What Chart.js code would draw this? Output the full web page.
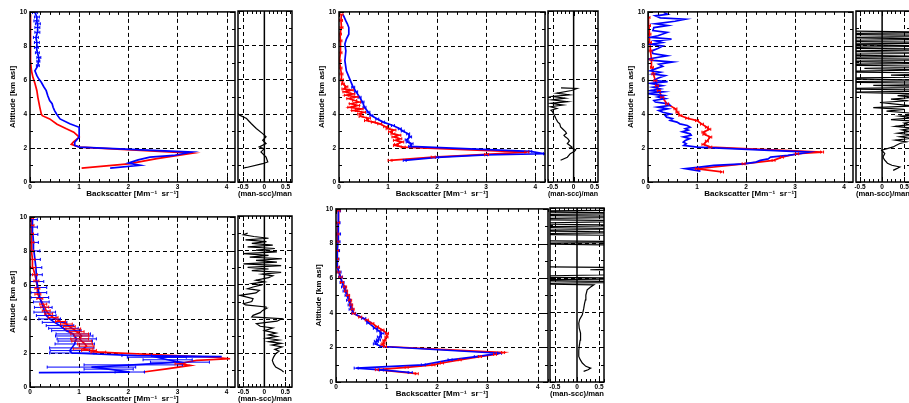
<!DOCTYPE html>
<html>

<head>
    <title>Backscatter profiles</title>
    <script src="https://cdn.jsdelivr.net/npm/chart.js@4.4.0/dist/chart.umd.min.js"></script>
    <style>
        body {
            margin: 0;
            background: #fff;
            width: 909px;
            height: 403px;
            overflow: hidden;
            position: relative;
        }

        canvas {
            position: absolute;
        }
    </style>
</head>

<body>
    <script>
        // tick labels
        var altTicks = [0, 2, 4, 6, 8, 10];
        var bscTicks = [0, 1, 2, 3, 4];
        var diffTicks = [-0.5, 0, 0.5];

        // each row: [altitude km, backscatter Mm-1 sr-1, error]
        var p1Blue = [
            [0.82, 1.63, 0], [0.98, 2.24, 0], [1.11, 2.00, 0], [1.30, 2.20, 0], [1.46, 2.44, 0],
            [1.56, 2.92, 0], [1.76, 3.29, 0], [2.05, 1.01, 0], [2.15, 0.91, 0], [2.34, 0.91, 0],
            [2.64, 1.00, 0], [3.22, 1.00, 0], [3.42, 0.81, 0], [3.71, 0.61, 0], [4.00, 0.54, 0],
            [4.20, 0.50, 0], [4.39, 0.47, 0], [4.60, 0.45, 0], [4.79, 0.40, 0], [5.08, 0.36, 0],
            [5.37, 0.33, 0], [5.60, 0.28, 0], [5.86, 0.23, 0], [6.05, 0.18, 0], [6.25, 0.14, 0],
            [6.54, 0.10, 0], [6.84, 0.16, 0.03], [7.10, 0.17, 0.03], [7.32, 0.18, 0.04], [7.60, 0.15, 0.04],
            [7.91, 0.13, 0.04], [8.20, 0.14, 0.05], [8.50, 0.12, 0.05], [8.80, 0.15, 0.05], [9.08, 0.15, 0.05],
            [9.30, 0.16, 0.05], [9.47, 0.13, 0.05], [9.70, 0.14, 0.05], [9.96, 0.10, 0.05]
        ];
        var p1Red = [
            [0.82, 1.05, 0], [1.07, 2.00, 0], [1.37, 2.58, 0], [1.70, 3.31, 0], [2.05, 1.01, 0],
            [2.21, 0.84, 0], [2.34, 0.88, 0], [2.64, 1.00, 0], [2.93, 0.89, 0], [3.13, 0.74, 0],
            [3.40, 0.55, 0], [3.71, 0.40, 0], [3.90, 0.25, 0], [4.00, 0.23, 0], [4.39, 0.20, 0],
            [4.98, 0.16, 0], [5.37, 0.14, 0], [5.80, 0.10, 0], [6.15, 0.06, 0], [6.54, 0.03, 0],
            [7.13, 0.01, 0], [8.30, 0.01, 0], [9.86, 0.01, 0]
        ];
        // each row: [altitude km, (man-scc)/man]
        var p1Diff = [
            [0.82, -0.49], [0.85, -0.42], [1.07, -0.04], [1.17, 0.08], [1.46, 0.04], [1.76, -0.08],
            [1.95, 0.00], [2.05, -0.12], [2.25, 0.04], [2.44, -0.04], [2.64, 0.04], [2.83, -0.04],
            [3.13, -0.19], [3.42, -0.31], [3.71, -0.42], [3.91, -0.58], [4.00, -0.62]
        ];

        var p2Blue = [
            [1.27, 1.34, 0.03], [1.45, 2.00, 0.03], [1.60, 3.00, 0.03], [1.66, 4.20, 0.03], [1.80, 3.90, 0.03],
            [2.09, 1.45, 0.03], [2.25, 1.48, 0.03], [2.35, 1.40, 0.03], [2.48, 1.38, 0.03], [2.65, 1.45, 0.03],
            [2.83, 1.41, 0.03], [3.00, 1.30, 0.03], [3.13, 1.24, 0.03], [3.32, 1.10, 0.03], [3.52, 0.90, 0.03],
            [3.70, 0.78, 0.03], [3.91, 0.66, 0.03], [4.10, 0.60, 0.03], [4.39, 0.52, 0.03], [4.70, 0.48, 0.03],
            [4.98, 0.42, 0.03], [5.30, 0.35, 0.03], [5.57, 0.29, 0.03], [6.05, 0.22, 0], [6.54, 0.15, 0],
            [7.13, 0.12, 0], [7.71, 0.14, 0], [8.11, 0.12, 0], [8.40, 0.15, 0], [8.69, 0.20, 0],
            [9.08, 0.20, 0], [9.30, 0.17, 0], [9.47, 0.14, 0], [9.86, 0.08, 0]
        ];
        var p2Red = [
            [1.27, 1.04, 0.04], [1.46, 1.92, 0.04], [1.62, 3.01, 0.04], [1.76, 3.83, 0.04], [2.05, 1.31, 0.04],
            [2.15, 1.15, 0.04], [2.21, 1.17, 0.04], [2.35, 1.28, 0.04], [2.45, 1.15, 0.04], [2.54, 1.24, 0.04],
            [2.65, 1.12, 0.04], [2.75, 1.22, 0.04], [2.83, 1.10, 0.04], [2.95, 1.05, 0.04], [3.05, 1.12, 0.04],
            [3.13, 1.00, 0.04], [3.25, 0.95, 0.04], [3.42, 0.83, 0.04], [3.52, 0.70, 0.04], [3.61, 0.56, 0.04],
            [3.75, 0.60, 0.04], [3.85, 0.45, 0.04], [4.00, 0.42, 0.04], [4.10, 0.50, 0.04], [4.20, 0.30, 0.04],
            [4.30, 0.45, 0.04], [4.39, 0.22, 0.04], [4.50, 0.38, 0.04], [4.60, 0.25, 0.04], [4.70, 0.40, 0.04],
            [4.79, 0.32, 0.04], [4.90, 0.20, 0.04], [5.00, 0.35, 0.04], [5.10, 0.15, 0.04], [5.18, 0.28, 0.04],
            [5.30, 0.12, 0.04], [5.40, 0.25, 0.04], [5.47, 0.10, 0.04], [5.60, 0.15, 0.03], [5.76, 0.08, 0.03],
            [6.00, 0.06, 0.03], [6.35, 0.05, 0.03], [6.70, 0.03, 0.03], [7.13, 0.01, 0.03], [7.60, 0.03, 0.03],
            [8.30, 0.03, 0.03], [8.70, 0.02, 0.03], [9.08, 0.05, 0.03], [9.50, 0.04, 0.03], [9.86, 0.05, 0.03]
        ];
        var p2Diff = [
            [1.27, -0.31], [1.45, -0.15], [1.66, -0.08], [1.80, 0.02], [1.89, 0.05], [2.00, -0.06],
            [2.05, -0.04], [2.25, -0.15], [2.40, -0.10], [2.54, -0.14], [2.65, -0.20], [2.73, -0.23],
            [2.85, -0.17], [2.93, -0.19], [3.10, -0.26], [3.22, -0.31], [3.40, -0.33], [3.52, -0.38],
            [3.70, -0.42], [3.91, -0.46], [4.10, -0.50], [4.20, -0.54], [4.30, -0.40], [4.40, -0.55],
            [4.50, -0.25], [4.60, -0.55], [4.70, -0.15], [4.80, -0.52], [4.90, -0.20], [5.00, -0.50],
            [5.10, -0.10], [5.20, -0.40], [5.35, -0.05], [5.47, 0.08], [5.50, -0.30]
        ];

        var p3Blue = [
            [0.64, 1.07, 0], [0.78, 0.76, 0], [0.88, 1.05, 0], [0.98, 1.34, 0], [1.07, 1.95, 0],
            [1.17, 2.20, 0], [1.27, 2.29, 0], [1.36, 2.45, 0], [1.46, 2.50, 0], [1.56, 2.85, 0],
            [1.66, 3.10, 0], [1.76, 3.28, 0], [2.05, 1.00, 0], [2.15, 0.73, 0], [2.25, 0.78, 0],
            [2.35, 0.72, 0], [2.44, 0.76, 0], [2.55, 0.85, 0], [2.65, 0.72, 0], [2.75, 0.88, 0],
            [2.83, 0.86, 0], [2.95, 0.70, 0], [3.05, 0.82, 0], [3.13, 0.76, 0], [3.22, 0.86, 0],
            [3.32, 0.80, 0], [3.42, 0.65, 0], [3.52, 0.59, 0], [3.62, 0.45, 0], [3.72, 0.50, 0],
            [3.81, 0.38, 0], [3.91, 0.35, 0], [4.00, 0.45, 0], [4.10, 0.30, 0], [4.20, 0.22, 0],
            [4.30, 0.40, 0], [4.40, 0.20, 0], [4.50, 0.45, 0], [4.59, 0.42, 0], [4.70, 0.15, 0],
            [4.79, 0.12, 0], [4.90, 0.35, 0], [5.00, 0.20, 0], [5.08, 0.32, 0], [5.20, 0.00, 0],
            [5.30, 0.30, 0], [5.37, 0.05, 0], [5.47, 0.25, 0], [5.57, 0.10, 0], [5.66, 0.29, 0],
            [5.80, 0.05, 0], [5.90, 0.40, 0], [5.96, 0.12, 0], [6.10, 0.20, 0], [6.25, 0.35, 0],
            [6.35, 0.10, 0], [6.45, 0.25, 0], [6.54, 0.05, 0], [6.65, 0.15, 0], [6.80, 0.30, 0],
            [6.93, 0.22, 0], [7.05, 0.50, 0], [7.15, 0.10, 0], [7.23, 0.01, 0], [7.42, 0.39, 0],
            [7.55, 0.10, 0], [7.71, 0.08, 0], [7.85, 0.20, 0], [8.00, 0.30, 0], [8.10, 0.05, 0],
            [8.20, 0.29, 0], [8.30, 0.15, 0], [8.40, 0.48, 0], [8.50, 0.05, 0], [8.60, 0.20, 0],
            [8.79, 0.39, 0], [8.90, 0.10, 0], [9.08, 0.12, 0], [9.20, 0.40, 0], [9.30, 0.15, 0],
            [9.45, 0.55, 0], [9.57, 0.76, 0], [9.65, 0.25, 0], [9.77, 0.15, 0], [9.86, 0.40, 0],
            [9.96, 0.32, 0]
        ];
        var p3Red = [
            [0.59, 1.51, 0.03], [0.78, 1.00, 0.03], [1.07, 1.95, 0.03], [1.27, 2.56, 0.03], [1.46, 2.73, 0.03],
            [1.66, 3.04, 0.03], [1.76, 3.55, 0.03], [2.05, 1.27, 0.03], [2.21, 1.13, 0.03], [2.40, 1.20, 0.03],
            [2.64, 1.27, 0.03], [2.80, 1.15, 0.03], [2.93, 1.13, 0.03], [3.10, 1.25, 0.03], [3.22, 1.20, 0.03],
            [3.40, 1.10, 0.03], [3.61, 1.00, 0.03], [3.75, 0.80, 0.03], [3.91, 0.66, 0.03], [4.10, 0.60, 0.03],
            [4.30, 0.56, 0.03], [4.59, 0.39, 0.03], [4.98, 0.29, 0.03], [5.37, 0.22, 0.03], [5.66, 0.18, 0.03],
            [5.96, 0.15, 0.03], [6.35, 0.11, 0.03], [6.74, 0.08, 0.03], [7.20, 0.07, 0.03], [7.71, 0.05, 0.03],
            [8.20, 0.04, 0.03], [8.69, 0.03, 0.03], [9.20, 0.02, 0.03], [9.67, 0.01, 0.03]
        ];
        var p3Diff = [
            [0.68, 0.25], [0.78, 0.33], [0.88, 0.40], [0.98, 0.22], [1.10, 0.12], [1.30, 0.05],
            [1.46, 0.02], [1.66, 0.06], [1.86, -0.01], [2.05, 0.25], [2.15, 0.32], [2.25, 0.40],
            [2.35, 0.55], [2.45, 0.30], [2.55, 0.65], [2.65, 0.40], [2.75, 0.70], [2.85, 0.35],
            [2.95, 0.62], [3.05, 0.45], [3.15, 0.70], [3.25, 0.30], [3.35, 0.60], [3.45, 0.50],
            [3.55, 0.80], [3.65, 0.20], [3.75, 0.70], [3.85, 0.40], [3.95, 0.90], [4.05, 0.55],
            [4.15, 0.10], [4.25, 0.50], [4.35, -0.20], [4.45, 0.70], [4.55, 0.30], [4.65, -0.05],
            [4.75, 0.60], [4.85, 0.20], [4.95, 0.75], [5.05, 0.35], [5.15, 0.90], [5.25, -0.70],
            [5.35, 2.0], [5.45, -1.5], [5.55, 1.5], [5.65, -0.2], [5.75, 2.0], [5.85, -1.5],
            [5.95, 1.8], [6.05, -2.0], [6.15, 1.5], [6.25, 0.2], [6.35, 2.0], [6.45, -1.5],
            [6.55, 1.0], [6.65, -0.4], [6.75, 2.0], [6.85, -2.0], [6.95, 1.5], [7.05, -1.0],
            [7.15, 2.0], [7.25, -2.0], [7.35, 1.0], [7.45, -2.0], [7.55, 2.0], [7.65, -1.5],
            [7.75, 2.0], [7.85, -2.0], [7.95, 1.5], [8.05, -1.5], [8.15, 2.0], [8.25, -2.0],
            [8.35, 1.5], [8.45, -1.0], [8.55, 2.0], [8.65, -2.0], [8.75, 1.5], [8.85, -1.5]
        ];

        var p4Blue = [
            [0.84, 0.18, 0], [0.88, 2.03, 0.30], [1.05, 1.60, 0.50], [1.17, 1.25, 0.90], [1.30, 2.10, 1.00],
            [1.46, 3.05, 0.60], [1.60, 2.80, 0.50], [1.75, 2.58, 0.60], [1.79, 3.90, 0], [1.85, 2.17, 0.30],
            [2.00, 0.85, 0.45], [2.14, 0.81, 0.40], [2.30, 0.85, 0.45], [2.53, 0.91, 0.40], [2.70, 0.92, 0.35],
            [2.83, 0.95, 0.40], [3.00, 0.90, 0.38], [3.12, 0.88, 0.35], [3.31, 0.74, 0.30], [3.45, 0.68, 0.30],
            [3.61, 0.61, 0.28], [3.80, 0.50, 0.25], [4.00, 0.40, 0.22], [4.20, 0.33, 0.20], [4.40, 0.30, 0.22],
            [4.68, 0.27, 0.18], [5.00, 0.23, 0.16], [5.26, 0.20, 0.18], [5.55, 0.18, 0.16], [5.85, 0.16, 0.18],
            [6.20, 0.14, 0.14], [6.60, 0.13, 0.12], [7.02, 0.12, 0.12], [7.50, 0.10, 0.11], [8.00, 0.08, 0.12],
            [8.50, 0.07, 0.10], [8.97, 0.06, 0.10], [9.40, 0.05, 0.10], [9.84, 0.05, 0.10]
        ];
        var p4Red = [
            [0.88, 2.31, 0], [1.07, 2.78, 0], [1.27, 3.26, 0], [1.36, 3.05, 0.10], [1.46, 3.20, 0],
            [1.56, 3.39, 0], [1.66, 4.07, 0], [1.75, 3.73, 0], [2.05, 1.39, 0.15], [2.15, 1.20, 0.15],
            [2.24, 1.08, 0.20], [2.40, 1.15, 0.15], [2.53, 1.12, 0.15], [2.70, 1.05, 0.20], [2.83, 1.01, 0.18],
            [3.00, 1.05, 0.15], [3.12, 1.01, 0.18], [3.25, 0.95, 0.15], [3.41, 0.88, 0.15], [3.55, 0.80, 0.12],
            [3.70, 0.74, 0.12], [3.85, 0.62, 0.10], [4.09, 0.47, 0.10], [4.30, 0.38, 0.08], [4.48, 0.33, 0.08],
            [4.70, 0.30, 0.08], [4.87, 0.27, 0.07], [5.20, 0.20, 0.06], [5.46, 0.16, 0.06], [5.80, 0.15, 0.05],
            [6.24, 0.13, 0.05], [6.60, 0.10, 0.05], [7.02, 0.06, 0.05], [7.50, 0.05, 0.05], [8.00, 0.03, 0.04],
            [8.50, 0.04, 0.04], [9.00, 0.03, 0.04], [9.50, 0.04, 0.04], [9.94, 0.03, 0.04]
        ];
        var p4Diff = [
            [0.88, 0.46], [1.00, 0.40], [1.17, 0.27], [1.35, 0.22], [1.56, 0.19], [1.75, 0.22],
            [1.95, 0.27], [2.10, 0.35], [2.20, 0.25], [2.34, 0.42], [2.45, 0.18], [2.55, 0.40],
            [2.65, 0.10], [2.75, 0.35], [2.85, 0.05], [2.95, 0.30], [3.05, 0.10], [3.15, 0.28],
            [3.30, 0.00], [3.45, 0.20], [3.55, -0.10], [3.70, -0.19], [3.85, 0.30], [4.00, 0.42],
            [4.10, -0.30], [4.19, -0.27], [4.35, -0.10], [4.48, -0.04], [4.60, 0.05], [4.68, 0.04],
            [4.80, -0.45], [4.87, -0.50], [5.00, -0.30], [5.17, -0.27], [5.36, -0.58], [5.50, -0.20],
            [5.65, -0.12], [5.75, -0.40], [5.85, -0.27], [5.95, -0.10], [6.05, -0.30], [6.15, 0.00],
            [6.25, -0.20], [6.40, 0.10], [6.50, 0.20], [6.60, -0.05], [6.70, 0.40], [6.80, -0.30],
            [6.90, 0.10], [7.00, -0.40], [7.10, 0.40], [7.20, -0.50], [7.30, 0.30], [7.40, -0.20],
            [7.50, 0.42], [7.60, -0.35], [7.70, 0.10], [7.80, -0.50], [7.90, 0.30], [8.00, -0.20],
            [8.10, 0.25], [8.20, -0.40], [8.30, 0.20], [8.40, -0.30], [8.50, 0.05], [8.60, -0.45],
            [8.70, 0.10], [8.80, -0.25], [8.90, -0.50], [9.00, -0.40]
        ];

        var p5Blue = [
            [0.55, 1.47, 0.04], [0.70, 0.90, 0.04], [0.80, 0.40, 0.04], [0.99, 1.73, 0.04], [1.28, 2.26, 0.04],
            [1.47, 2.78, 0.04], [1.66, 3.24, 0.04], [2.05, 0.91, 0.04], [2.20, 0.78, 0.04], [2.35, 0.80, 0.04],
            [2.43, 0.84, 0.04], [2.60, 0.86, 0.04], [2.81, 0.91, 0.04], [2.95, 0.85, 0.04], [3.10, 0.78, 0.04],
            [3.40, 0.65, 0.04], [3.67, 0.55, 0.04], [3.96, 0.35, 0.04], [4.20, 0.30, 0.04], [4.45, 0.28, 0.04],
            [4.72, 0.25, 0.04], [5.00, 0.22, 0.04], [5.25, 0.18, 0.04], [5.49, 0.15, 0.04], [5.75, 0.12, 0.04],
            [6.06, 0.09, 0.04], [6.35, 0.06, 0.04], [6.63, 0.03, 0.04], [7.10, 0.02, 0.04], [7.59, 0.03, 0.04],
            [8.10, 0.04, 0.04], [8.55, 0.05, 0.04], [9.20, 0.04, 0.04], [9.89, 0.05, 0.04]
        ];
        var p5Red = [
            [0.48, 1.60, 0.03], [0.71, 0.81, 0.03], [0.85, 1.40, 0.03], [0.99, 1.93, 0.03], [1.10, 2.10, 0.03],
            [1.28, 2.45, 0.03], [1.47, 2.85, 0.03], [1.60, 3.15, 0.03], [1.70, 3.31, 0.03], [2.05, 0.97, 0.03],
            [2.15, 0.92, 0.03], [2.24, 0.94, 0.03], [2.40, 0.96, 0.03], [2.60, 1.00, 0.03], [2.81, 1.01, 0.03],
            [3.00, 0.92, 0.03], [3.19, 0.81, 0.03], [3.38, 0.72, 0.03], [3.58, 0.61, 0.03], [3.75, 0.48, 0.03],
            [3.96, 0.35, 0.03], [4.20, 0.33, 0.03], [4.45, 0.30, 0.03], [4.72, 0.28, 0.03], [5.00, 0.24, 0.03],
            [5.25, 0.20, 0.03], [5.49, 0.18, 0.03], [5.75, 0.12, 0.03], [6.06, 0.09, 0.03], [6.35, 0.05, 0.03],
            [6.63, 0.03, 0.03], [7.10, 0.02, 0.03], [7.59, 0.02, 0.03], [8.10, 0.03, 0.03], [8.55, 0.03, 0.03],
            [9.20, 0.04, 0.03], [9.89, 0.05, 0.03]
        ];
        var p5Diff = [
            [0.61, 0.15], [0.70, 0.25], [0.80, 0.31], [0.90, 0.20], [1.09, 0.12], [1.30, 0.07],
            [1.47, 0.04], [1.80, 0.04], [2.05, 0.05], [2.40, 0.07], [2.81, 0.08], [3.10, 0.05],
            [3.38, 0.04], [3.60, 0.06], [3.86, 0.12], [4.20, 0.15], [4.50, 0.17], [4.72, 0.19],
            [5.00, 0.20], [5.30, 0.23], [5.45, 0.30], [5.58, 0.38], [5.65, -1.5], [5.75, 2.0],
            [5.85, -2.0], [5.95, 2.0], [6.05, -2.0], [6.15, 0.5], [6.30, 2.0], [6.45, 0.3],
            [6.55, 2.0], [6.65, -2.0], [6.75, null], [7.85, 2.0], [7.95, -2.0], [8.05, 2.0],
            [8.15, -2.0], [8.25, null], [8.40, 2.0], [8.50, -2.0], [8.60, 2.0], [8.70, -2.0],
            [8.80, 2.0], [8.90, -2.0], [9.00, 2.0], [9.10, -2.0], [9.25, 2.0], [9.35, -2.0],
            [9.50, 2.0], [9.60, -2.0], [9.70, 2.0], [9.80, -2.0], [9.90, 2.0]
        ];

        var FONT = "'Liberation Sans', 'DejaVu Sans', sans-serif";
        var tickFont = { family: FONT, size: 6.5, weight: 'bold' };
        var titleFont = { family: FONT, size: 8, weight: 'bold' };
        var YW = 22, XH = 17, PT = 6, PR = 4, PL = 8;

        // dashed grid, solid zero line, frame and inward ticks
        var framePlugin = {
            id: 'frame',
            beforeDatasetsDraw: function(chart, args, o) {
                var ctx = chart.ctx, a = chart.chartArea, x = chart.scales.x, y = chart.scales.y;
                ctx.save();
                ctx.strokeStyle = '#000';
                ctx.lineWidth = 1;
                ctx.setLineDash([4, 3]);
                ctx.beginPath();
                o.xDash.forEach(function(v) {
                    var px = Math.round(x.getPixelForValue(v)) + 0.5;
                    ctx.moveTo(px, a.top); ctx.lineTo(px, a.bottom);
                });
                o.yDash.forEach(function(v) {
                    var py = Math.round(y.getPixelForValue(v)) + 0.5;
                    ctx.moveTo(a.left, py); ctx.lineTo(a.right, py);
                });
                ctx.stroke();
                ctx.setLineDash([]);
                ctx.lineWidth = 1.5;
                ctx.beginPath();
                o.xSolid.forEach(function(v) {
                    var px = x.getPixelForValue(v);
                    ctx.moveTo(px, a.top); ctx.lineTo(px, a.bottom);
                });
                ctx.stroke();
                ctx.restore();
            },
            afterDraw: function(chart, args, o) {
                var ctx = chart.ctx, a = chart.chartArea, x = chart.scales.x, y = chart.scales.y;
                ctx.save();
                ctx.strokeStyle = '#000';
                ctx.lineWidth = 1;
                ctx.beginPath();
                var v, px, py, len;
                for (v = Math.ceil(x.min / o.xMinor) * o.xMinor; v <= x.max + 1e-9; v += o.xMinor) {
                    px = Math.round(x.getPixelForValue(v)) + 0.5;
                    len = o.xMajor.indexOf(Math.round(v * 100) / 100) >= 0 ? 5 : 3;
                    ctx.moveTo(px, a.bottom); ctx.lineTo(px, a.bottom - len);
                    ctx.moveTo(px, a.top); ctx.lineTo(px, a.top + len);
                }
                for (v = 0; v <= 10; v += 1) {
                    py = Math.round(y.getPixelForValue(v)) + 0.5;
                    len = v % 2 === 0 ? 5 : 3;
                    ctx.moveTo(a.left, py); ctx.lineTo(a.left + len, py);
                    ctx.moveTo(a.right, py); ctx.lineTo(a.right - len, py);
                }
                ctx.stroke();
                ctx.lineWidth = 1.5;
                ctx.strokeRect(a.left, a.top, a.right - a.left, a.bottom - a.top);
                ctx.restore();
            }
        };

        // horizontal error bars from the dataset's errors list
        var errorPlugin = {
            id: 'errbars',
            afterDatasetsDraw: function(chart) {
                var ctx = chart.ctx, a = chart.chartArea, x = chart.scales.x, y = chart.scales.y;
                ctx.save();
                ctx.beginPath();
                ctx.rect(a.left, a.top, a.right - a.left, a.bottom - a.top);
                ctx.clip();
                chart.data.datasets.forEach(function(ds) {
                    if (!ds.errors) return;
                    ctx.strokeStyle = ds.borderColor;
                    ctx.lineWidth = 1;
                    ctx.beginPath();
                    ds.data.forEach(function(pt, i) {
                        var e = ds.errors[i];
                        if (!e) return;
                        var py = y.getPixelForValue(pt.y);
                        var x0 = x.getPixelForValue(pt.x - e), x1 = x.getPixelForValue(pt.x + e);
                        ctx.moveTo(x0, py); ctx.lineTo(x1, py);
                        ctx.moveTo(x0, py - 1.5); ctx.lineTo(x0, py + 1.5);
                        ctx.moveTo(x1, py - 1.5); ctx.lineTo(x1, py + 1.5);
                    });
                    ctx.stroke();
                });
                ctx.restore();
            }
        };

        function addCanvas(left, top, w, h) {
            var c = document.createElement('canvas');
            c.width = w;
            c.height = h;
            c.style.left = left + 'px';
            c.style.top = top + 'px';
            c.style.width = w + 'px';
            c.style.height = h + 'px';
            document.body.appendChild(c);
            return c;
        }

        function profile(rows, color) {
            return {
                data: rows.map(function(r) { return { x: r[1], y: r[0] }; }),
                errors: rows.map(function(r) { return r[2]; }),
                borderColor: color,
                borderWidth: 1.7,
                pointRadius: 0,
                tension: 0,
                fill: false
            };
        }

        function axisY(showLabels, width) {
            return {
                type: 'linear',
                min: 0,
                max: 10,
                display: showLabels,
                afterBuildTicks: function(s) { s.ticks = altTicks.map(function(v) { return { value: v }; }); },
                afterFit: function(s) { s.width = width; },
                grid: { display: false, drawTicks: false },
                border: { display: false },
                ticks: { font: tickFont, color: '#000', padding: 3, autoSkip: false },
                title: { display: showLabels, text: 'Altitude [km asl]', font: titleFont, color: '#000', padding: 0 }
            };
        }

        function axisX(min, max, ticks, text) {
            return {
                type: 'linear',
                min: min,
                max: max,
                afterBuildTicks: function(s) { s.ticks = ticks.map(function(v) { return { value: v }; }); },
                afterFit: function(s) { s.height = XH; },
                grid: { display: false, drawTicks: false },
                border: { display: false },
                ticks: {
                    font: tickFont, color: '#000', padding: 1, autoSkip: false, maxRotation: 0,
                    callback: function(v) { return String(v); }
                },
                title: { display: true, text: text, font: titleFont, color: '#000', padding: 0 }
            };
        }

        function mainChart(p, blue, red) {
            var c = addCanvas(p.L - YW, p.T - PT, p.R - p.L + YW + PR, p.B - p.T + PT + XH);
            return new Chart(c, {
                type: 'line',
                data: { datasets: [profile(blue, '#0000ff'), profile(red, '#ff0000')] },
                options: {
                    responsive: false,
                    animation: false,
                    devicePixelRatio: 1,
                    layout: { padding: { top: PT, right: PR, left: 0, bottom: 0 } },
                    plugins: {
                        legend: { display: false },
                        tooltip: { enabled: false },
                        frame: { xDash: [1, 2, 3, 4], yDash: [2, 4, 6, 8], xSolid: [], xMinor: 0.2, xMajor: bscTicks }
                    },
                    scales: {
                        x: axisX(0, p.xmax, bscTicks, 'Backscatter [Mm\u207B\u00B9  sr\u207B\u00B9]'),
                        y: axisY(true, YW)
                    }
                },
                plugins: [framePlugin, errorPlugin]
            });
        }

        function sideChart(p, diff) {
            var c = addCanvas(p.L - PL, p.T - PT, p.R - p.L + PL + PR, p.B - p.T + PT + XH);
            return new Chart(c, {
                type: 'line',
                data: {
                    datasets: [{
                        data: diff.map(function(r) { return { x: r[1], y: r[0] }; }),
                        borderColor: '#000',
                        borderWidth: 1.2,
                        pointRadius: 0,
                        tension: 0,
                        spanGaps: false
                    }]
                },
                options: {
                    responsive: false,
                    animation: false,
                    devicePixelRatio: 1,
                    layout: { padding: { top: PT, right: PR, left: PL, bottom: 0 } },
                    plugins: {
                        legend: { display: false },
                        tooltip: { enabled: false },
                        frame: { xDash: [-0.5, 0.5], yDash: [2, 4, 6, 8], xSolid: [0], xMinor: 0.1, xMajor: diffTicks }
                    },
                    scales: {
                        x: axisX(p.xmin, p.xmax, diffTicks, '(man-scc)/man'),
                        y: axisY(false, 0)
                    }
                },
                plugins: [framePlugin]
            });
        }

        // panel 1
        mainChart({ L: 30, R: 235, T: 11, B: 182, xmax: 4.17 }, p1Blue, p1Red);
        sideChart({ L: 238, R: 292, T: 11, B: 182, xmin: -0.62, xmax: 0.65 }, p1Diff);
        // panel 2
        mainChart({ L: 339, R: 545, T: 11, B: 182, xmax: 4.20 }, p2Blue, p2Red);
        sideChart({ L: 548, R: 598, T: 11, B: 182, xmin: -0.61, xmax: 0.58 }, p2Diff);
        // panel 3
        mainChart({ L: 648, R: 853, T: 11, B: 182, xmax: 4.18 }, p3Blue, p3Red);
        sideChart({ L: 856, R: 910, T: 11, B: 182, xmin: -0.59, xmax: 0.63 }, p3Diff);
        // panel 4
        mainChart({ L: 30, R: 235, T: 216, B: 387, xmax: 4.17 }, p4Blue, p4Red);
        sideChart({ L: 238, R: 292, T: 216, B: 387, xmin: -0.63, xmax: 0.66 }, p4Diff);
        // panel 5
        mainChart({ L: 336, R: 548, T: 208, B: 382, xmax: 4.20 }, p5Blue, p5Red);
        sideChart({ L: 550, R: 604, T: 208, B: 382, xmin: -0.61, xmax: 0.61 }, p5Diff);
    </script>
</body>

</html>
